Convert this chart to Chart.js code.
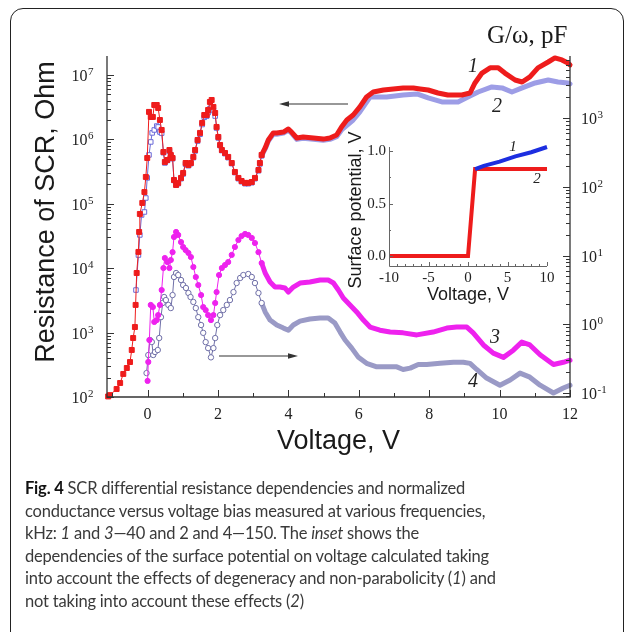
<!DOCTYPE html>
<html>
<head>
<meta charset="utf-8">
<script src="https://cdn.jsdelivr.net/npm/chart.js@4"></script>
<style>
  html, body { margin: 0; background: #fff; overflow: hidden; width: 627px; height: 632px; }
  #frame { position: absolute; left: 10px; top: 8px; width: 612px; height: 640px; border: 1.5px solid #222; border-radius: 13px; }
  #main { position: absolute; left: 0; top: 0; }
  #inset { position: absolute; left: 335px; top: 125px; }
  #caption { position: absolute; left: 25px; top: 477px; font-family: Lato, sans-serif; font-size: 16.5px; line-height: 22.5px; color: #3a3a3a; letter-spacing: -0.2px; white-space: nowrap; }
  #caption b { color: #111; }
</style>
</head>
<body>
<div id="frame"></div>
<canvas id="main" width="627" height="632"></canvas>
<canvas id="inset" width="255" height="185"></canvas>
<div id="caption"><b>Fig. 4</b> SCR differential resistance dependencies and normalized<br>conductance versus voltage bias measured at various frequencies,<br>kHz: <i>1</i> and <i>3</i>—40 and 2 and 4—150. The <i>inset</i> shows the<br>dependencies of the surface potential on voltage calculated taking<br>into account the effects of degeneracy and non-parabolicity (<i>1</i>) and<br>not taking into account these effects (<i>2</i>)</div>
<script>
// curve 1: resistance, 40 kHz (left axis)
const volts1 = [-1.12,-1.07,-0.88,-0.78,-0.69,-0.59,-0.50,-0.45,-0.41,-0.36,-0.34,-0.31,-0.26,-0.24,-0.22,-0.15,-0.09,-0.05,-0.01,0.04,0.09,0.15,0.19,0.26,0.30,0.35,0.40,0.45,0.49,0.56,0.62,0.66,0.71,0.75,0.81,0.87,0.95,1.01,1.08,1.16,1.23,1.30,1.35,1.42,1.49,1.55,1.61,1.68,1.72,1.77,1.82,1.87,1.92,1.96,2.01,2.06,2.11,2.20,2.29,2.39,2.48,2.58,2.67,2.77,2.86,2.96,3.05,3.15,3.19,3.24,3.34,3.43,3.57,3.67,3.86,4.00,4.09,4.24,4.42,4.71,4.99,5.18,5.37,5.51,5.66,5.84,6.03,6.22,6.41,6.70,6.98,7.26,7.55,7.74,7.97,8.25,8.53,8.93,9.16,9.30,9.50,9.73,9.96,10.15,10.44,10.64,10.86,11.09,11.38,11.57,11.77,11.94,12.0];
const res1 = [102,107,133,165,228,282,349,537,824,1220,2690,8420,17900,36500,69500,103000,152000,261000,514000,2.67e6,2.23e6,2.23e6,3.42e6,3.42e6,3.07e6,2.0e6,1.4e6,637000,446000,479000,684000,573000,514000,234000,196000,211000,252000,301000,430000,400000,430000,534000,684000,979000,1.26e6,1.8e6,2.39e6,2.39e6,2.86e6,3.81e6,4.09e6,3.19e6,2.57e6,1.56e6,1.09e6,819000,684000,615000,534000,430000,312000,252000,226000,211000,211000,218000,252000,335000,430000,573000,735000,979000,1.26e6,1.26e6,1.3e6,1.45e6,1.3e6,1.05e6,1.09e6,1.05e6,1.01e6,1.05e6,1.17e6,1.56e6,2.0e6,2.39e6,3.19e6,4.55e6,5.44e6,5.84e6,6.07e6,6.29e6,6.29e6,6.07e6,5.84e6,5.25e6,4.89e6,4.89e6,5.25e6,7.52e6,1.07e7,1.29e7,1.29e7,1.07e7,8.36e6,7.78e6,9.31e6,1.29e7,1.59e7,1.84e7,1.71e7,1.53e7,1.43e7];

// curve 2: resistance, 150 kHz (left axis)
const volts2 = [-0.33,-0.26,-0.22,-0.17,-0.09,-0.05,-0.01,0.04,0.09,0.13,0.19,0.26,0.30,0.35,0.40,0.45,0.49,0.56,0.62,0.66,0.71,0.75,0.81,0.87,0.95,1.01,1.08,1.16,1.23,1.30,1.35,1.42,1.49,1.55,1.61,1.68,1.72,1.77,1.82,1.87,1.92,1.96,2.01,2.06,2.11,2.20,2.29,2.39,2.48,2.58,2.67,2.77,2.86,2.96,3.05,3.15,3.19,3.24,3.34,3.43,3.57,3.67,3.86,4.00,4.09,4.24,4.42,4.71,4.99,5.18,5.37,5.51,5.84,6.03,6.32,6.79,7.26,7.65,7.97,8.36,8.82,9.10,9.39,9.78,10.07,10.35,10.64,11.01,11.38,11.66,11.94,12.0];
const res2 = [4580,16000,32800,67000,74600,123000,252000,573000,912000,1.26e6,1.4e6,1.61e6,1.56e6,1.3e6,1.25e6,620000,430000,470000,650000,560000,500000,230000,195000,205000,245000,290000,410000,390000,420000,520000,660000,940000,1.2e6,1.7e6,2.2e6,2.3e6,2.6e6,3.0e6,3.19e6,2.8e6,2.3e6,1.5e6,1.05e6,800000,670000,600000,520000,420000,305000,245000,220000,205000,205000,212000,245000,325000,415000,555000,710000,940000,1.2e6,1.2e6,1.25e6,1.38e6,1.25e6,1.0e6,1.04e6,1.0e6,970000,1.0e6,1.1e6,1.4e6,2.0e6,2.67e6,4.55e6,4.55e6,4.89e6,5.07e6,4.4e6,3.81e6,3.81e6,4.55e6,5.44e6,6.52e6,6.29e6,5.44e6,6.29e6,7.52e6,8.36e6,7.78e6,7.52e6,7.24e6];

// curve 3: G/omega, 40 kHz (right axis)
const volts3 = [0.00,0.02,0.05,0.09,0.15,0.19,0.26,0.30,0.35,0.40,0.45,0.49,0.56,0.62,0.66,0.71,0.75,0.81,0.87,0.95,1.01,1.08,1.16,1.23,1.30,1.37,1.44,1.52,1.58,1.65,1.72,1.80,1.87,1.92,1.96,2.03,2.11,2.20,2.29,2.39,2.48,2.58,2.67,2.77,2.86,2.96,3.05,3.15,3.24,3.34,3.48,3.62,3.76,3.90,4.00,4.14,4.33,4.61,4.90,5.13,5.28,5.42,5.56,5.75,5.94,6.13,6.32,6.60,6.89,7.26,7.65,8.11,8.50,8.78,9.07,9.25,9.54,9.82,10.11,10.39,10.63,10.86,11.15,11.53,11.81,12.0];
const cond3 = [0.150,0.283,0.59,1.91,1.78,1.08,1.15,1.36,1.91,3.15,6.58,9.2,8.04,6.58,8.6,11.2,18.6,22.0,19.9,15.7,13.3,12.0,10.9,9.51,6.81,4.87,3.72,2.66,1.78,1.61,1.36,1.15,1.36,2.04,2.94,5.2,6.58,7.27,8.04,10.2,13.3,16.8,19.2,20.6,19.9,18.0,15.2,11.2,7.78,5.56,4.12,3.48,3.48,3.37,2.94,3.48,3.98,4.12,4.4,4.4,3.98,3.15,2.41,1.91,1.51,1.15,0.91,0.82,0.77,0.75,0.70,0.77,0.88,0.91,0.91,0.75,0.50,0.38,0.33,0.42,0.55,0.50,0.36,0.26,0.28,0.30];

// curve 4: G/omega, 150 kHz (right axis)
const volts4 = [-0.03,0.02,0.07,0.12,0.16,0.21,0.29,0.33,0.38,0.43,0.47,0.52,0.59,0.66,0.71,0.75,0.81,0.87,0.95,1.01,1.09,1.16,1.22,1.30,1.37,1.44,1.52,1.58,1.65,1.72,1.80,1.87,1.92,1.98,2.06,2.15,2.25,2.34,2.44,2.53,2.63,2.72,2.86,2.96,3.05,3.15,3.24,3.34,3.48,3.67,3.86,4.00,4.14,4.33,4.61,4.90,5.13,5.32,5.47,5.61,5.80,5.99,6.22,6.51,6.79,7.08,7.26,7.46,7.69,7.93,8.31,8.69,8.97,9.16,9.35,9.63,10.01,10.30,10.58,10.86,11.15,11.53,11.81,12.0];
const cond4 = [0.195,0.357,0.59,0.552,0.357,0.395,0.422,0.631,1.27,2.04,2.49,2.25,1.91,1.72,2.66,4.87,5.56,5.2,4.4,3.72,3.37,2.85,2.49,2.11,1.72,1.27,0.975,0.75,0.55,0.45,0.33,0.45,0.63,0.975,1.36,1.61,1.91,2.25,2.94,3.98,4.71,5.2,5.38,4.87,3.98,2.85,2.04,1.51,1.15,0.975,0.88,0.82,0.975,1.11,1.19,1.23,1.23,1.04,0.77,0.59,0.45,0.33,0.27,0.24,0.24,0.24,0.22,0.23,0.26,0.26,0.27,0.28,0.28,0.27,0.22,0.165,0.13,0.155,0.195,0.17,0.13,0.10,0.118,0.13];

// inset: surface potential vs voltage
const insetVolts2 = [-10, 0, 0.9, 10];
const insetPot2 = [0, 0, 0.83, 0.83];
const insetVolts1 = [0.9, 2, 4, 6, 8, 10];
const insetPot1 = [0.83, 0.86, 0.9, 0.95, 0.99, 1.04];

const xTicks = [0, 2, 4, 6, 8, 10, 12];
const leftDecades = [2, 3, 4, 5, 6, 7];
const rightDecades = [-1, 0, 1, 2, 3];
const insetXTicks = [-10, -5, 0, 5, 10];
const insetYTicks = [0, 0.5, 1.0];

const DENSE = 3.3; // above this the markers merge into a band
const SERIF = '"Liberation Serif", "Times New Roman", serif';
const SANS = '"Liberation Sans", Arial, sans-serif';

const pts = (xs, ys) => xs.map((v, i) => ({ x: v, y: ys[i] }));

function series(xs, ys, axis, color, band, style, r, fill) {
  return {
    data: pts(xs, ys),
    yAxisID: axis,
    borderColor: color,
    backgroundColor: fill,
    borderWidth: 1,
    pointBorderWidth: 1,
    pointStyle: style,
    pointRadius: c => (c.raw && c.raw.x < DENSE ? r : 0),
    borderJoinStyle: 'round',
    borderCapStyle: 'round',
    tension: 0,
    clip: false,
    segment: {
      borderWidth: c => (c.p0.parsed.x >= DENSE - 0.1 ? 5 : undefined),
      borderColor: c => (c.p0.parsed.x >= DENSE - 0.1 ? band : undefined)
    }
  };
}

function sup(ctx, base, exp, x, y, align) {
  ctx.font = '16px ' + SERIF;
  const wb = ctx.measureText(base).width;
  ctx.font = '11px ' + SERIF;
  const we = ctx.measureText(exp).width;
  const x0 = align === 'right' ? x - wb - we : x;
  ctx.textAlign = 'left';
  ctx.font = '16px ' + SERIF;
  ctx.textBaseline = 'alphabetic';
  ctx.fillText(base, x0, y + 6);
  ctx.font = '11px ' + SERIF;
  ctx.fillText(exp, x0 + wb + 0.5, y + 0);
}

function arrow(ctx, x0, y0, x1, y1) {
  const dir = Math.sign(x1 - x0);
  ctx.beginPath();
  ctx.moveTo(x0, y0);
  ctx.lineTo(x1 - dir * 4, y1);
  ctx.stroke();
  ctx.beginPath();
  ctx.moveTo(x1, y1);
  ctx.lineTo(x1 - dir * 10, y1 - 2.8);
  ctx.lineTo(x1 - dir * 10, y1 + 2.8);
  ctx.closePath();
  ctx.fill();
}

const mainAxes = {
  id: 'mainAxes',
  afterDraw(chart) {
    const { ctx, chartArea: a } = chart;
    const { x, y, y2 } = chart.scales;
    ctx.save();
    ctx.strokeStyle = '#333';
    ctx.fillStyle = '#222';
    ctx.lineWidth = 1.3;
    ctx.beginPath();
    ctx.moveTo(a.left, a.top);
    ctx.lineTo(a.left, a.bottom);
    ctx.lineTo(a.right, a.bottom);
    ctx.lineTo(a.right, a.top);
    ctx.stroke();

    ctx.lineWidth = 1;
    // left log ticks
    leftDecades.forEach(e => {
      for (let k = 1; k <= 9; k++) {
        const v = k * Math.pow(10, e);
        if (v < y.min || v > y.max) continue;
        const py = Math.round(y.getPixelForValue(v)) + 0.5;
        ctx.beginPath();
        ctx.moveTo(a.left, py);
        ctx.lineTo(a.left + (k === 1 ? 7 : 4), py);
        ctx.stroke();
      }
      sup(ctx, '10', String(e), a.left - 14, y.getPixelForValue(Math.pow(10, e)), 'right');
    });
    // right log ticks
    [-2].concat(rightDecades).forEach(e => {
      for (let k = 1; k <= 9; k++) {
        const v = k * Math.pow(10, e);
        if (v < y2.min || v > y2.max) continue;
        const py = Math.round(y2.getPixelForValue(v)) + 0.5;
        ctx.beginPath();
        ctx.moveTo(a.right, py);
        ctx.lineTo(a.right - (k === 1 ? 7 : 4), py);
        ctx.stroke();
      }
    });
    rightDecades.forEach(e => {
      sup(ctx, '10', String(e), a.right + 11, y2.getPixelForValue(Math.pow(10, e)), 'left');
    });
    // x ticks
    for (let v = -1; v <= 12; v++) {
      const px = Math.round(x.getPixelForValue(v)) + 0.5;
      ctx.beginPath();
      ctx.moveTo(px, a.bottom);
      ctx.lineTo(px, a.bottom - (v % 2 === 0 ? 7 : 4));
      ctx.stroke();
    }
    ctx.font = '16px ' + SERIF;
    ctx.textAlign = 'center';
    ctx.textBaseline = 'alphabetic';
    xTicks.forEach(v => ctx.fillText(String(v), x.getPixelForValue(v), a.bottom + 22));

    // titles
    ctx.fillStyle = '#1a1a1a';
    ctx.font = '27px ' + SANS;
    ctx.fillText('Voltage, V', (a.left + a.right) / 2, 449);
    ctx.save();
    ctx.translate(54, 212);
    ctx.rotate(-Math.PI / 2);
    ctx.fillText('Resistance of SCR, Ohm', 0, 0);
    ctx.restore();
    ctx.font = '25px ' + SERIF;
    ctx.textAlign = 'left';
    ctx.fillText('G/\u03c9, pF', 487, 43);

    // direction arrows
    ctx.strokeStyle = '#333';
    ctx.fillStyle = '#333';
    ctx.lineWidth = 1.2;
    arrow(ctx, 348, 104, 279, 104);
    arrow(ctx, 219, 356, 298, 356);

    // curve numbers
    ctx.fillStyle = '#222';
    ctx.font = 'italic 20px ' + SERIF;
    ctx.textAlign = 'center';
    ctx.textBaseline = 'middle';
    ctx.fillText('1', 473, 67);
    ctx.fillText('2', 497, 107);
    ctx.fillText('3', 495, 338);
    ctx.fillText('4', 473, 382);
    ctx.restore();
  }
};

new Chart(document.getElementById('main'), {
  type: 'line',
  data: {
    datasets: [
      series(volts1, res1, 'y', '#ee1c1c', '#ee1c1c', 'rect', 3.5, '#ee1c1c'),
      series(volts2, res2, 'y', '#6a6ad8', '#9d9de6', 'rect', 3.2, '#fff'),
      series(volts3, cond3, 'y2', '#ee22ee', '#ee22ee', 'circle', 2.6, '#ee22ee'),
      series(volts4, cond4, 'y2', '#7070a8', '#9a9ac6', 'circle', 2.7, '#fff')
    ]
  },
  options: {
    responsive: false,
    animation: false,
    events: [],
    layout: { padding: { left: 107, right: 57, top: 56, bottom: 235 } },
    plugins: { legend: { display: false }, tooltip: { enabled: false } },
    scales: {
      x: { type: 'linear', min: -1.153, max: 12, display: false },
      y: { type: 'logarithmic', min: 100, max: 1.97e7, display: false },
      y2: { type: 'logarithmic', min: 0.0875, max: 7980, display: false }
    }
  },
  plugins: [mainAxes]
});

const insetAxes = {
  id: 'insetAxes',
  afterDraw(chart) {
    const { ctx, chartArea: a } = chart;
    const { x, y } = chart.scales;
    ctx.save();
    ctx.strokeStyle = '#666';
    ctx.fillStyle = '#222';
    ctx.lineWidth = 1;
    ctx.beginPath();
    ctx.moveTo(a.left + 0.5, a.top);
    ctx.lineTo(a.left + 0.5, a.bottom + 0.5);
    ctx.lineTo(a.right, a.bottom + 0.5);
    ctx.stroke();
    for (let v = -10; v <= 10; v++) {
      const px = Math.round(x.getPixelForValue(v)) + 0.5;
      ctx.beginPath();
      ctx.moveTo(px, a.bottom);
      ctx.lineTo(px, a.bottom - (v % 5 === 0 ? 4 : 2));
      ctx.stroke();
    }
    for (let v = 0; v <= 1.001; v += 0.25) {
      const py = Math.round(y.getPixelForValue(v)) + 0.5;
      ctx.beginPath();
      ctx.moveTo(a.left, py);
      ctx.lineTo(a.left + (Math.abs(v * 2 - Math.round(v * 2)) < 0.01 ? 4 : 2), py);
      ctx.stroke();
    }
    ctx.font = '15px ' + SERIF;
    ctx.textAlign = 'center';
    ctx.textBaseline = 'middle';
    insetXTicks.forEach(v => ctx.fillText(String(v), x.getPixelForValue(v), a.bottom + 12));
    ctx.textAlign = 'right';
    insetYTicks.forEach(v => ctx.fillText(v.toFixed(1), a.left - 3, y.getPixelForValue(v)));

    ctx.fillStyle = '#1a1a1a';
    ctx.font = '18px ' + SANS;
    ctx.textAlign = 'center';
    ctx.textBaseline = 'alphabetic';
    ctx.fillText('Voltage, V', (a.left + a.right) / 2, a.bottom + 34);
    ctx.save();
    ctx.translate(26, 85);
    ctx.rotate(-Math.PI / 2);
    ctx.fillText('Surface potential, V', 0, 0);
    ctx.restore();

    ctx.fillStyle = '#222';
    ctx.font = 'italic 15px ' + SERIF;
    ctx.textBaseline = 'middle';
    ctx.fillText('1', 178, 22);
    ctx.fillText('2', 202, 54);
    ctx.restore();
  }
};

new Chart(document.getElementById('inset'), {
  type: 'line',
  data: {
    datasets: [
      { data: pts(insetVolts1, insetPot1), borderColor: '#1c2ee0', borderWidth: 4, pointRadius: 0, tension: 0, clip: false },
      { data: pts(insetVolts2, insetPot2), borderColor: '#ee1c1c', borderWidth: 4, pointRadius: 0, tension: 0, clip: false, borderJoinStyle: 'miter' }
    ]
  },
  options: {
    responsive: false,
    animation: false,
    events: [],
    layout: { padding: { left: 54, right: 43, top: 22, bottom: 44 } },
    plugins: { legend: { display: false }, tooltip: { enabled: false } },
    scales: {
      x: { type: 'linear', min: -10, max: 10, display: false },
      y: { type: 'linear', min: -0.095, max: 1.04, display: false }
    }
  },
  plugins: [insetAxes]
});
</script>
</body>
</html>
